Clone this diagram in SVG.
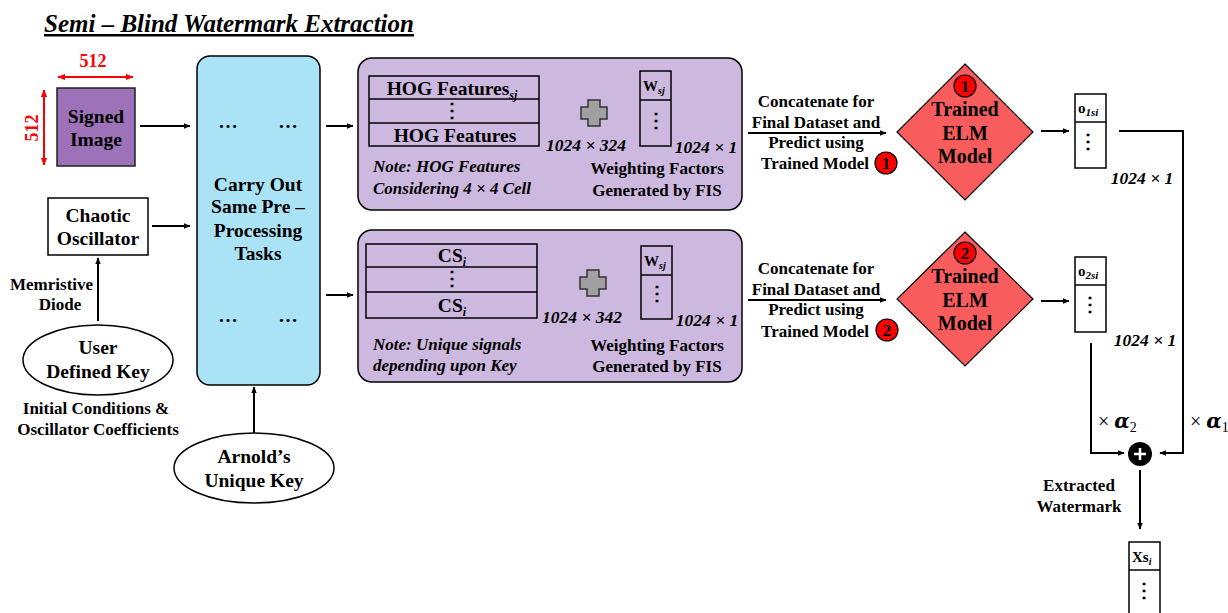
<svg xmlns="http://www.w3.org/2000/svg" width="1228" height="613" viewBox="0 0 1228 613">
<defs>
<marker id="ah" viewBox="0 0 10 10" refX="9" refY="5" markerWidth="7" markerHeight="7" orient="auto-start-reverse" markerUnits="userSpaceOnUse"><path d="M0,1 L10,5 L0,9 z" fill="#000"/></marker>
<marker id="rh" viewBox="0 0 10 10" refX="9" refY="5" markerWidth="8" markerHeight="8" orient="auto-start-reverse" markerUnits="userSpaceOnUse"><path d="M0,1 L10,5 L0,9 z" fill="#f00"/></marker>
</defs>
<style>
text{font-family:"Liberation Serif","Times New Roman",serif;font-weight:bold;fill:#000}
.c{text-anchor:middle}
.t{font-size:19.5px}
.s{font-size:17px}
.i{font-style:italic}
.red{fill:#f00}
.ln{stroke:#000;stroke-width:2;fill:none}
.bx{fill:#fff;stroke:#000;stroke-width:1.5}
.pp{fill:#CDB8DF;stroke:#000;stroke-width:1.5}
.dm{fill:#F85C5C;stroke:#000;stroke-width:1.2}
.rc{fill:#f00;stroke:#000;stroke-width:1.2}
.ws{font-size:15px}
.al{font-size:20px;font-weight:normal}
.al tspan.a{font-family:"DejaVu Serif",serif;font-style:italic;font-weight:bold;font-size:20px}
</style>
<rect width="1228" height="613" fill="#fff"/>
<text x="44" y="32" style="font-size:25px;font-style:italic;text-decoration:underline">Semi – Blind Watermark Extraction</text>

<g id="signed-image">
<line x1="58" y1="77" x2="133" y2="77" stroke="#f00" stroke-width="2" marker-start="url(#rh)" marker-end="url(#rh)"/>
<text x="93" y="67" class="c red" font-size="18">512</text>
<line x1="44" y1="90" x2="44" y2="165" stroke="#f00" stroke-width="2" marker-start="url(#rh)" marker-end="url(#rh)"/>
<text x="38" y="128" class="c red" font-size="18" transform="rotate(-90 38 128)">512</text>
<rect x="57" y="88" width="78" height="78" fill="#9D72B8" stroke="#222" stroke-width="1.5"/>
<text x="96" y="123" class="c t">Signed</text>
<text x="96" y="146" class="c t">Image</text>
</g>

<g id="chaotic-oscillator">
<rect x="48" y="198" width="100" height="57" class="bx"/>
<text x="98" y="222" class="c t">Chaotic</text>
<text x="98" y="245" class="c t">Oscillator</text>
</g>

<g id="user-key">
<ellipse cx="98" cy="360" rx="75" ry="35" class="bx"/>
<text x="98" y="354" class="c t">User</text>
<text x="98" y="378" class="c t">Defined Key</text>
<text x="96" y="414" class="c s">Initial Conditions &amp;</text>
<text x="98" y="435" class="c s">Oscillator Coefficients</text>
</g>

<g id="arnold-key">
<ellipse cx="254" cy="468" rx="80" ry="35" class="bx"/>
<text x="254" y="463" class="c t">Arnold’s</text>
<text x="254" y="487" class="c t">Unique Key</text>
</g>

<g id="preprocessing">
<rect x="197" y="56" width="123" height="329" rx="13" fill="#ABE3F6" stroke="#000" stroke-width="1.5"/>
<text x="228" y="128" class="c t">…</text>
<text x="288" y="128" class="c t">…</text>
<text x="258" y="191" class="c t">Carry Out</text>
<text x="258" y="213" class="c t">Same Pre –</text>
<text x="258" y="237" class="c t">Processing</text>
<text x="258" y="260" class="c t">Tasks</text>
<text x="228" y="322" class="c t">…</text>
<text x="288" y="322" class="c t">…</text>
</g>

<g id="hog-panel">
<rect x="358" y="58" width="384" height="152" rx="14" class="pp"/>
<rect x="369" y="76" width="170" height="70" fill="none" stroke="#000" stroke-width="1.5"/>
<line x1="369" y1="99" x2="539" y2="99" stroke="#000" stroke-width="1.5"/>
<line x1="369" y1="123" x2="539" y2="123" stroke="#000" stroke-width="1.5"/>
<text x="452" y="95" class="c t">HOG Features<tspan class="i" font-size="12" dy="4">sj</tspan></text>
<text x="452" y="117" class="c t">⋮</text>
<text x="455" y="142" class="c t">HOG Features</text>
<path d="M588,100 h12 v7 h7 v12 h-7 v7 h-12 v-7 h-7 v-12 h7 z" fill="#A0A0A0" stroke="#333" stroke-width="1.5"/>
<rect x="640" y="71" width="31" height="75" fill="none" stroke="#000" stroke-width="1.5"/>
<line x1="640" y1="100" x2="671" y2="100" stroke="#000" stroke-width="1.5"/>
<text x="643" y="91" class="ws">W<tspan class="i" font-size="10" dy="3">sj</tspan></text>
<text x="656" y="127" class="c t">⋮</text>
<text x="586" y="151" class="c i" font-size="17.5">1024 × 324</text>
<text x="706" y="153" class="c i" font-size="17.5">1024 × 1</text>
<text x="373" y="172" class="s i">Note: HOG Features</text>
<text x="373" y="194" class="s i">Considering 4 × 4 Cell</text>
<text x="657" y="174" class="c s">Weighting Factors</text>
<text x="657" y="196" class="c s">Generated by FIS</text>
</g>

<g id="cs-panel">
<rect x="358" y="230" width="384" height="152" rx="14" class="pp"/>
<rect x="366" y="244" width="171" height="74" fill="none" stroke="#000" stroke-width="1.5"/>
<line x1="366" y1="267" x2="537" y2="267" stroke="#000" stroke-width="1.5"/>
<line x1="366" y1="292" x2="537" y2="292" stroke="#000" stroke-width="1.5"/>
<text x="452" y="262" class="c t">CS<tspan class="i" font-size="12" dy="4">i</tspan></text>
<text x="452" y="285" class="c t">⋮</text>
<text x="452" y="312" class="c t">CS<tspan class="i" font-size="12" dy="4">i</tspan></text>
<path d="M587,270 h12 v7 h7 v12 h-7 v7 h-12 v-7 h-7 v-12 h7 z" fill="#A0A0A0" stroke="#333" stroke-width="1.5"/>
<rect x="641" y="246" width="31" height="73" fill="none" stroke="#000" stroke-width="1.5"/>
<line x1="641" y1="275" x2="672" y2="275" stroke="#000" stroke-width="1.5"/>
<text x="644" y="266" class="ws">W<tspan class="i" font-size="10" dy="3">sj</tspan></text>
<text x="657" y="300" class="c t">⋮</text>
<text x="582" y="323" class="c i" font-size="17.5">1024 × 342</text>
<text x="707" y="326" class="c i" font-size="17.5">1024 × 1</text>
<text x="373" y="350" class="s i">Note: Unique signals</text>
<text x="373" y="371" class="s i">depending upon Key</text>
<text x="657" y="351" class="c s">Weighting Factors</text>
<text x="657" y="372" class="c s">Generated by FIS</text>
</g>

<g id="elm1">
<polygon points="965,64 1033,132 965,200 897,132" class="dm"/>
<circle cx="965" cy="86" r="11" class="rc"/>
<text x="965" y="92" class="c s">1</text>
<text x="965" y="116" class="c" font-size="20">Trained</text>
<text x="965" y="140" class="c" font-size="20">ELM</text>
<text x="965" y="163" class="c" font-size="20">Model</text>
</g>

<g id="elm2">
<polygon points="965,232 1033,299 965,366 897,299" class="dm"/>
<circle cx="965" cy="253" r="11" class="rc"/>
<text x="965" y="259" class="c s">2</text>
<text x="965" y="283" class="c" font-size="20">Trained</text>
<text x="965" y="307" class="c" font-size="20">ELM</text>
<text x="965" y="330" class="c" font-size="20">Model</text>
</g>

<g id="concat1">
<text x="816" y="107" class="c s">Concatenate for</text>
<text x="816" y="128" class="c s">Final Dataset and</text>
<text x="816" y="148" class="c s">Predict using</text>
<text x="815" y="169" class="c s">Trained Model</text>
<circle cx="886" cy="163" r="11" class="rc"/>
<text x="886" y="169" class="c s">1</text>
</g>

<g id="concat2">
<text x="816" y="274" class="c s">Concatenate for</text>
<text x="816" y="295" class="c s">Final Dataset and</text>
<text x="816" y="315" class="c s">Predict using</text>
<text x="815" y="337" class="c s">Trained Model</text>
<circle cx="887" cy="330" r="11" class="rc"/>
<text x="887" y="336" class="c s">2</text>
</g>

<g id="o1">
<rect x="1075" y="94" width="31" height="74" class="bx"/>
<line x1="1075" y1="122" x2="1106" y2="122" stroke="#000" stroke-width="1.5"/>
<text x="1078" y="113" class="ws">o<tspan class="i" font-size="11" dy="3">1si</tspan></text>
<text x="1088" y="148" class="c t">⋮</text>
<text x="1142" y="184" class="c i" font-size="17.5">1024 × 1</text>
</g>

<g id="o2">
<rect x="1075" y="257" width="31" height="75" class="bx"/>
<line x1="1075" y1="285" x2="1106" y2="285" stroke="#000" stroke-width="1.5"/>
<text x="1078" y="276" class="ws">o<tspan class="i" font-size="11" dy="3">2si</tspan></text>
<text x="1090" y="311" class="c t">⋮</text>
<text x="1145" y="346" class="c i" font-size="17.5">1024 × 1</text>
</g>

<g id="sum">
<circle cx="1140" cy="454" r="12" fill="#000"/>
<path d="M1134,454 h12 M1140,448 v12" stroke="#fff" stroke-width="2.5"/>
<text x="1079" y="491" class="c s">Extracted</text>
<text x="1079" y="512" class="c s">Watermark</text>
</g>

<g id="xs">
<rect x="1129" y="542" width="31" height="80" class="bx"/>
<line x1="1129" y1="570" x2="1160" y2="570" stroke="#000" stroke-width="1.5"/>
<text x="1132" y="562" class="ws">Xs<tspan class="i" font-size="10" dy="3">i</tspan></text>
<text x="1144" y="597" class="c t">⋮</text>
</g>

<g id="connectors">
<line x1="140" y1="126" x2="190" y2="126" class="ln" marker-end="url(#ah)"/>
<line x1="152" y1="226" x2="190" y2="226" class="ln" marker-end="url(#ah)"/>
<line x1="98" y1="321" x2="98" y2="258" class="ln" marker-end="url(#ah)"/>
<line x1="254" y1="433" x2="254" y2="387" class="ln" marker-end="url(#ah)"/>
<line x1="326" y1="126" x2="353" y2="126" class="ln" marker-end="url(#ah)"/>
<line x1="326" y1="295" x2="353" y2="295" class="ln" marker-end="url(#ah)"/>
<line x1="748" y1="133" x2="886" y2="133" class="ln" marker-end="url(#ah)"/>
<line x1="748" y1="300" x2="886" y2="300" class="ln" marker-end="url(#ah)"/>
<line x1="1041" y1="131" x2="1069" y2="131" class="ln" marker-end="url(#ah)"/>
<line x1="1041" y1="301" x2="1069" y2="301" class="ln" marker-end="url(#ah)"/>
<polyline points="1119,131 1183,131 1183,453 1160,453" class="ln" marker-end="url(#ah)"/>
<polyline points="1091,343 1091,453 1124,453" class="ln" marker-end="url(#ah)"/>
<line x1="1140" y1="470" x2="1140" y2="529" class="ln" marker-end="url(#ah)"/>
<text x="1098" y="428" class="al">× <tspan class="a">α</tspan><tspan font-size="14" dy="4">2</tspan></text>
<text x="1190" y="428" class="al">× <tspan class="a">α</tspan><tspan font-size="14" dy="4">1</tspan></text>
<text x="10" y="290" class="s">Memristive</text>
<text x="60" y="310" class="c s">Diode</text>
</g>
</svg>
